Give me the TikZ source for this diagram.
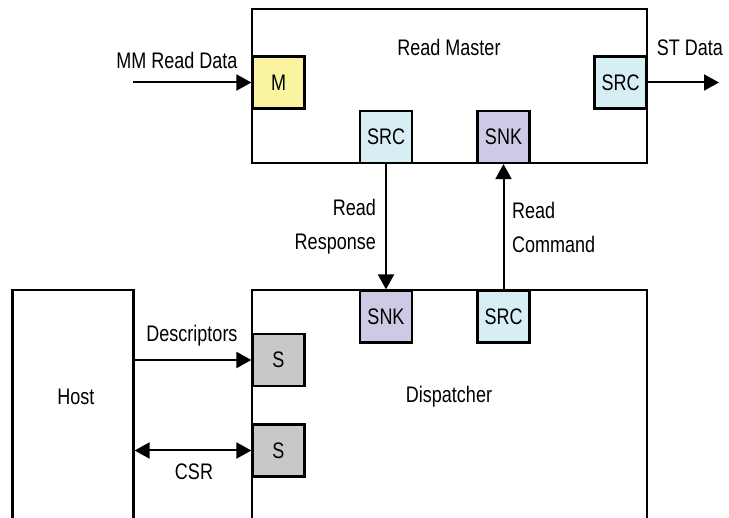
\documentclass[tikz,border=0pt]{standalone}
\usepackage{fontspec}
\setmainfont[FakeStretch=0.8]{Liberation Sans}
\usetikzlibrary{arrows.meta}
\definecolor{portY}{RGB}{250,243,160}
\definecolor{portB}{RGB}{214,238,244}
\definecolor{portP}{RGB}{206,202,230}
\definecolor{portG}{RGB}{200,200,200}
\tikzset{
  blk/.style={draw=black, line width=2.2pt, fill=white, inner sep=0pt},
  port/.style={draw=black, line width=2.2pt, minimum width=52pt, minimum height=52pt, inner sep=0pt, font=\fontsize{22.5}{25}\selectfont},
  lbl/.style={inner sep=0pt, font=\fontsize{22.5}{34}\selectfont},
  arr/.style={line width=2pt, -{Triangle[length=15pt,width=16pt]}},
  darr/.style={line width=2pt, {Triangle[length=15pt,width=16pt]}-{Triangle[length=15pt,width=16pt]}},
}
\begin{document}
\begin{tikzpicture}[x=1pt, y=-1pt]
\clip (0,0) rectangle (729,518);
\fill[white] (0,0) rectangle (729,518);
% blocks
\node (rm) [blk, minimum width=395pt, minimum height=154pt] at (449.5,86) {};
\node (rmt) [lbl] at (449,47) {Read Master};
\node (disp) [blk, minimum width=395pt, minimum height=280pt] at (449.5,430) {};
\node (dispt) [lbl] at (449,397) {Dispatcher};
\node (host) [blk, minimum width=121pt, minimum height=280pt] at (73,430) {};
\node (hostt) [lbl] at (76,397) {Host};
% ports
\node (m) [port, fill=portY] at (278.5,82.5) {M};
\node (srcR) [port, fill=portB] at (620.5,82.5) {SRC};
\node (srcB) [port, fill=portB] at (386,137) {SRC};
\node (snkT) [port, fill=portP] at (503.5,137) {SNK};
\node (snkD) [port, fill=portP] at (386,316.5) {SNK};
\node (srcD) [port, fill=portB] at (503.5,316.5) {SRC};
\node (s1) [port, fill=portG] at (278.5,360) {S};
\node (s2) [port, fill=portG] at (278.5,450.5) {S};
% free ends
\coordinate (mmin) at (133,82.5);
\coordinate (stout) at (719,82.5);
% connectors
\draw[arr] (mmin) -- (m.west);
\draw[arr] (srcR.east) -- (stout);
\draw[arr] (srcB.south) -- (snkD.north);
\draw[arr] (srcD.north) -- (snkT.south);
\draw[arr] (host.east |- s1.west) -- (s1.west);
\draw[darr] (host.east |- s2.west) -- (s2.west);
% labels
\node (mml) [lbl] at (177,60) {MM Read Data};
\node (stl) [lbl] at (690,48) {ST Data};
\node (rrl) [lbl, align=right, anchor=east] at (376,227) {Read\\Response};
\node (rcl) [lbl, align=left, anchor=west] at (512,227) {Read\\Command};
\node (desl) [lbl] at (192,336) {Descriptors};
\node (csrl) [lbl] at (194,472) {CSR};
\end{tikzpicture}
\end{document}
